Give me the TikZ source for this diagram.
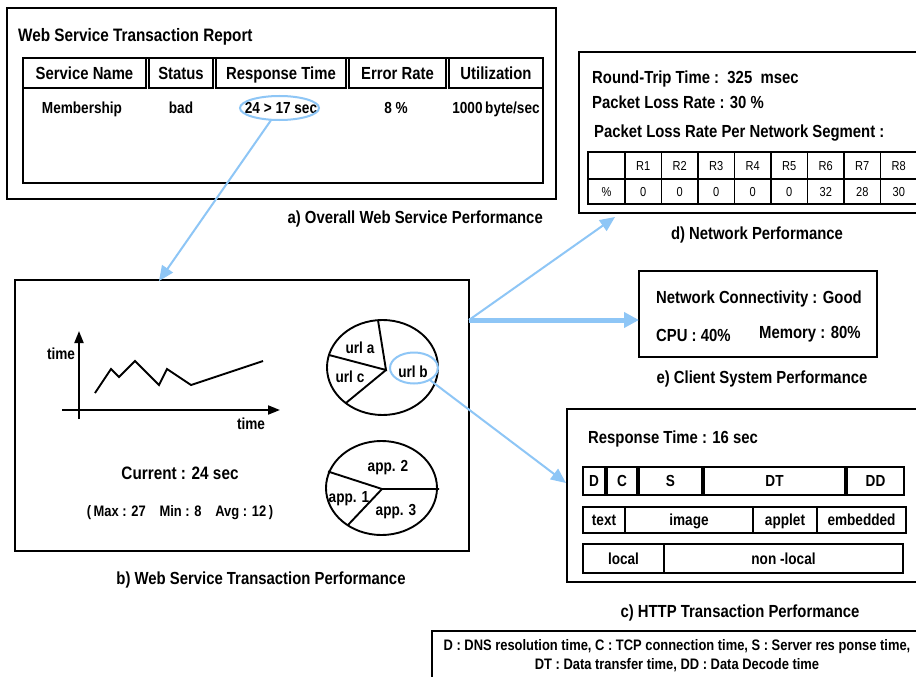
\documentclass[tikz,border=0pt]{standalone}
\usepackage{fontspec}
\setmainfont{Liberation Sans}[FakeStretch=0.85]
\usetikzlibrary{arrows.meta,shapes.geometric,fit}
\definecolor{linkblue}{RGB}{142,198,246}
\newcommand\fsz[1]{\fontsize{#1}{#1}\selectfont}

\begin{document}
\begin{tikzpicture}[x=1pt,y=-1pt,
  box/.style={draw, line width=1.9pt, inner sep=0pt, outer sep=0pt},
  cellbox/.style={draw, line width=1.7pt, inner sep=0pt, outer sep=0pt},
  thincell/.style={draw, line width=1.3pt, inner sep=0pt, outer sep=0pt},
  txt/.style={inner sep=0pt, text depth=0pt, text height=12.5pt, font=\bfseries\fsz{17.5}},
  big/.style={txt, text height=12.9pt, font=\bfseries\fsz{18}},
  mid/.style={txt, text height=11.5pt, font=\bfseries\fsz{16}},
  sml/.style={txt, text height=10.8pt, font=\bfseries\fsz{15.2}},
  tny/.style={txt, text height=9.3pt, font=\mdseries\fsz{13}},
  link/.style={draw=linkblue, line width=2pt, -{Triangle[length=15pt,width=13pt]}},
  boldlink/.style={draw=linkblue, line width=5pt, -{Triangle[length=15pt,width=15pt]}},
  ring/.style={draw=linkblue, line width=2pt, ellipse, inner sep=0pt, outer sep=0pt},
  pie/.style={draw, line width=1.9pt, ellipse, inner sep=0pt, outer sep=0pt},
  axis/.style={line width=1.9pt, -{Triangle[length=12pt,width=9pt]}},
  stroke/.style={line width=1.9pt, line join=miter}]

\useasboundingbox (0,0) rectangle (916,677);
\clip (0,0) rectangle (916,677);
\fill[white] (0,0) rectangle (916,677);

% ---------- a) overall web service performance ----------
\node[box, fit={(7,8)(556,199)}] (boxa) {};
\node[big, anchor=west] (titlea) at (18,35) {Web Service Transaction Report};
\node[cellbox, fit={(23,58)(543,183)}] (tbl) {};
\node[cellbox, fit={(23,58)(146,88)}] (h1) {};
\node[cellbox, fit={(149,58)(213,88)}] (h2) {};
\node[cellbox, fit={(216,58)(346,88)}] (h3) {};
\node[cellbox, fit={(349,58)(446,88)}] (h4) {};
\node[cellbox, fit={(449,58)(543,88)}] (h5) {};
\node[txt] (h1t) at (h1) {Service Name};
\node[txt] (h2t) at (h2) {Status};
\node[txt] (h3t) at (h3) {Response Time};
\node[txt] (h4t) at (h4) {Error Rate};
\node[txt] (h5t) at (h5) {Utilization};
\node[mid] (d1) at (82,108) {Membership};
\node[mid] (d2) at (181,108) {bad};
\node[mid] (d3) at (281,108) {24 > 17 sec};
\node[mid] (d4) at (396,108) {8 \%};
\node[mid] (d5) at (496,108) {1000\,byte/sec};
\node[ring, minimum width=79, minimum height=24] (resp) at (279.5,108) {};
\node[txt, anchor=east] (capa) at (543,217) {a) Overall Web Service Performance};

% ---------- b) web service transaction performance ----------
\node[box, fit={(15,280)(469,551)}] (boxb) {};
\coordinate (ybot) at (79,419);
\coordinate (ytop) at (79,331);
\coordinate (xleft) at (62,410);
\coordinate (xright) at (280,410);
\draw[axis] (ybot) -- (ytop);
\draw[axis] (xleft) -- (xright);
\draw[stroke] (95,393) -- (111,369) -- (119,377) -- (135,361) -- (159,385)
  -- (167,369) -- (191,385) -- (263,361);
\node[mid] (ylab) at (61,354) {time};
\node[mid] (xlab) at (251,424) {time};
\node[big] (cur) at (180,473) {Current : 24 sec};
\node[sml] (stats) at (180,511) {(\,Max : 27\hspace{0.9em}Min : 8\hspace{0.9em}Avg : 12\,)};

\node[pie, minimum width=111, minimum height=95] (pieA) at (382.5,367.5) {};
\coordinate (hubA) at (386,370);
\draw[stroke] (378,320.2) -- (hubA) -- (329,355);
\draw[stroke] (hubA) -- (345.8,403.1);
\node[mid] (urla) at (360,348) {url a};
\node[mid] (urlc) at (350,377) {url c};
\node[mid] (urlb) at (413,372) {url b};
\node[ring, minimum width=48, minimum height=31] (ringB) at (414,368) {};

\node[pie, minimum width=111, minimum height=94] (pieB) at (381.5,488) {};
\coordinate (hubB) at (382,489);
\draw[stroke] (328,471.5) -- (hubB) -- (439,489);
\draw[stroke] (hubB) -- (347.7,525.3);
\node[mid] (app2) at (388,466) {app. 2};
\node[mid] (app1) at (349,497) {app. 1};
\node[mid] (app3) at (396,510) {app. 3};
\node[txt] (capb) at (261,578) {b) Web Service Transaction Performance};

% ---------- d) network performance ----------
\node[box, fit={(579,52)(930,213)}] (boxd) {};
\node[txt, anchor=west] (rtt) at (592,77) {Round-Trip Time :\ \ 325\ \ msec};
\node[txt, anchor=west] (plr) at (592,102) {Packet Loss Rate : 30 \%};
\node[txt, anchor=west] (plrs) at (594,131) {Packet Loss Rate Per Network Segment :};
\node[thincell, fit={(588,152)(625,179)}] (seg0) {};
\node[thincell, fit={(588,179)(625,204)}] (pct0) {};
\node[tny] (pctt0) at (pct0) {\%};
\foreach \i/\r/\v in {1/R1/0,2/R2/0,3/R3/0,4/R4/0,5/R5/0,6/R6/32,7/R7/28,8/R8/30}{
  \pgfmathsetmacro\xa{625+36.5*(\i-1)}
  \pgfmathsetmacro\xb{\xa+36.5}
  \node[thincell, fit={(\xa,152)(\xb,179)}] (seg\i) {};
  \node[tny] (segt\i) at (seg\i) {\r};
  \node[thincell, fit={(\xa,179)(\xb,204)}] (pct\i) {};
  \node[tny] (pctt\i) at (pct\i) {\v};
}
\node[txt] (capd) at (757,233) {d) Network Performance};

% ---------- e) client system performance ----------
\node[box, fit={(639,271)(877,357)}] (boxe) {};
\node[txt, anchor=west] (conn) at (656,297) {Network Connectivity : Good};
\node[txt, anchor=west] (cpu) at (656,335) {CPU : 40\%};
\node[txt, anchor=west] (mem) at (759,332) {Memory : 80\%};
\node[txt] (cape) at (762,377) {e) Client System Performance};

% ---------- c) HTTP transaction performance ----------
\node[box, fit={(567,409)(930,582)}] (boxc) {};
\node[txt, anchor=west] (rsp) at (588,437) {Response Time : 16 sec};
\node[cellbox, fit={(583,467)(605,495)}] (pd) {};
\node[cellbox, fit={(607,467)(637,495)}] (pc) {};
\node[cellbox, fit={(639,467)(702,495)}] (ps) {};
\node[cellbox, fit={(704,467)(845,495)}] (pdt) {};
\node[cellbox, fit={(847,467)(904,495)}] (pdd) {};
\node[mid] (pdl) at (pd) {D};
\node[mid] (pcl) at (pc) {C};
\node[mid] (psl) at (ps) {S};
\node[mid] (pdtl) at (pdt) {DT};
\node[mid] (pddl) at (pdd) {DD};
\node[cellbox, fit={(583,507)(625,533)}] (ktext) {};
\node[cellbox, fit={(625,507)(753,533)}] (kimg) {};
\node[cellbox, fit={(753,507)(817,533)}] (kapp) {};
\node[cellbox, fit={(817,507)(906,533)}] (kemb) {};
\node[mid] (ktextl) at (ktext) {text};
\node[mid] (kimgl) at (kimg) {image};
\node[mid] (kappl) at (kapp) {applet};
\node[mid] (kembl) at (kemb) {embedded};
\node[cellbox, fit={(583,544)(664,573)}] (loc) {};
\node[cellbox, fit={(664,544)(903,573)}] (nloc) {};
\node[mid] (locl) at (loc) {local};
\node[mid] (nlocl) at (nloc) {non -local};
\node[txt] (capc) at (740,611) {c) HTTP Transaction Performance};

% ---------- legend ----------
\node[box, fit={(432,631)(930,700)}] (legend) {};
\node[sml] (leg1) at (677,645) {D : DNS resolution time, C : TCP connection time, S : Server res ponse time,};
\node[sml] (leg2) at (677,664) {DT : Data transfer time, DD : Data Decode time};

% ---------- connectors ----------
\coordinate (aTip) at (159,281);
\coordinate (bOut) at (469,320);
\coordinate (dTip) at (615,217);
\coordinate (cTip) at (566,483);
\draw[link] (resp) -- (aTip);
\draw[link] (bOut) -- (dTip);
\draw[boldlink] (bOut) -- (boxe.west |- bOut);
\draw[link] (ringB) -- (cTip);
\end{tikzpicture}
\end{document}
